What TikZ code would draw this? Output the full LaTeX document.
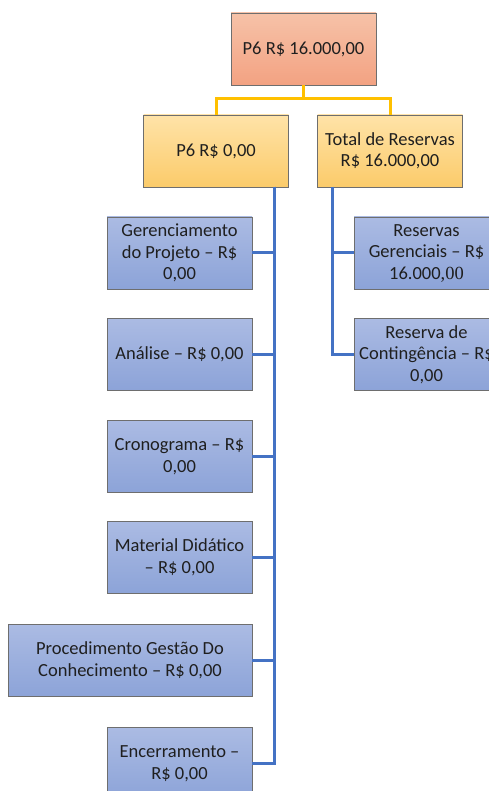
\documentclass[tikz,border=0pt]{standalone}
\usepackage{fontspec}
\setmainfont{Carlito}
\newfontfamily\serifalt{Liberation Serif}
\usetikzlibrary{positioning}

\definecolor{salmonTop}{HTML}{F6C2A8}
\definecolor{salmonBot}{HTML}{F3A282}
\definecolor{goldTop}{HTML}{FFE3A8}
\definecolor{goldBot}{HTML}{FBCB6A}
\definecolor{blueTop}{HTML}{ABBBE3}
\definecolor{blueBot}{HTML}{8CA3D8}
\definecolor{goldLine}{HTML}{FFC000}
\definecolor{blueLine}{HTML}{4472C4}
\definecolor{edgeGray}{HTML}{6E6E6E}

\tikzset{
  box/.style={draw=edgeGray, line width=0.9pt, minimum width=145pt, minimum height=72pt,
    inner sep=2pt, align=center, shading=axis, shading angle=0, text=black!88,
    font=\fontsize{18.5}{21.5}\selectfont},
  rootbox/.style={box, top color=salmonTop, bottom color=salmonBot},
  midbox/.style={box, top color=goldTop, bottom color=goldBot},
  leafbox/.style={box, top color=blueTop, bottom color=blueBot},
  goldlink/.style={draw=goldLine, line width=3pt},
  bluelink/.style={draw=blueLine, line width=3pt},
}

\begin{document}
\begin{tikzpicture}[x=1pt, y=-1pt]
\useasboundingbox (0,0) rectangle (489,791);
\clip (0,0) rectangle (489,791);

% top level and the two branches
\node[rootbox] (root) at (303.5,49) {P6 R\$ 16.000,00};
\node[midbox]  (p6)   at (216,151)  {P6 R\$ 0,00};
\node[midbox]  (tot)  at (390,151)  {Total de Reservas\\R\$ 16.000,00};

% work packages
\node[leafbox] (ger)  at (179.5,253)   {Gerenciamento\\do Projeto – R\$\\0,00};
\node[leafbox] (ana)  at (179.5,354.5) {Análise – R\$ 0,00};
\node[leafbox] (cro)  at (179.5,456.5) {Cronograma – R\$\\0,00};
\node[leafbox] (mat)  at (179.5,557.5) {Material Didático\\– R\$ 0,00};
\node[leafbox, minimum width=244pt] (proc) at (130,660.5) {Procedimento Gestão Do\\Conhecimento – R\$ 0,00};
\node[leafbox] (enc)  at (179.5,763.5) {Encerramento –\\R\$ 0,00};

% reserves
\node[leafbox] (resg) at (426.5,253)   {Reservas\\Gerenciais – R\$\\16.000{\serifalt,00}};
\node[leafbox] (resc) at (426.5,354.5) {Reserva de\\Contingência – R\$\\0,00};

% gold bus from the root to the two branches
\coordinate (bus) at (303.5,99);
\draw[goldlink] (root.south) -- (bus) -| (p6.north);
\draw[goldlink] (bus) -| (tot.north);

% blue trunks
\coordinate (lt) at (274,187);
\coordinate (rt) at (332,187);
\foreach \n in {ger,ana,cro,mat,proc,enc}
  \draw[bluelink] (lt) |- (\n.east);
\foreach \n in {resg,resc}
  \draw[bluelink] (rt) |- (\n.west);
\end{tikzpicture}
\end{document}
